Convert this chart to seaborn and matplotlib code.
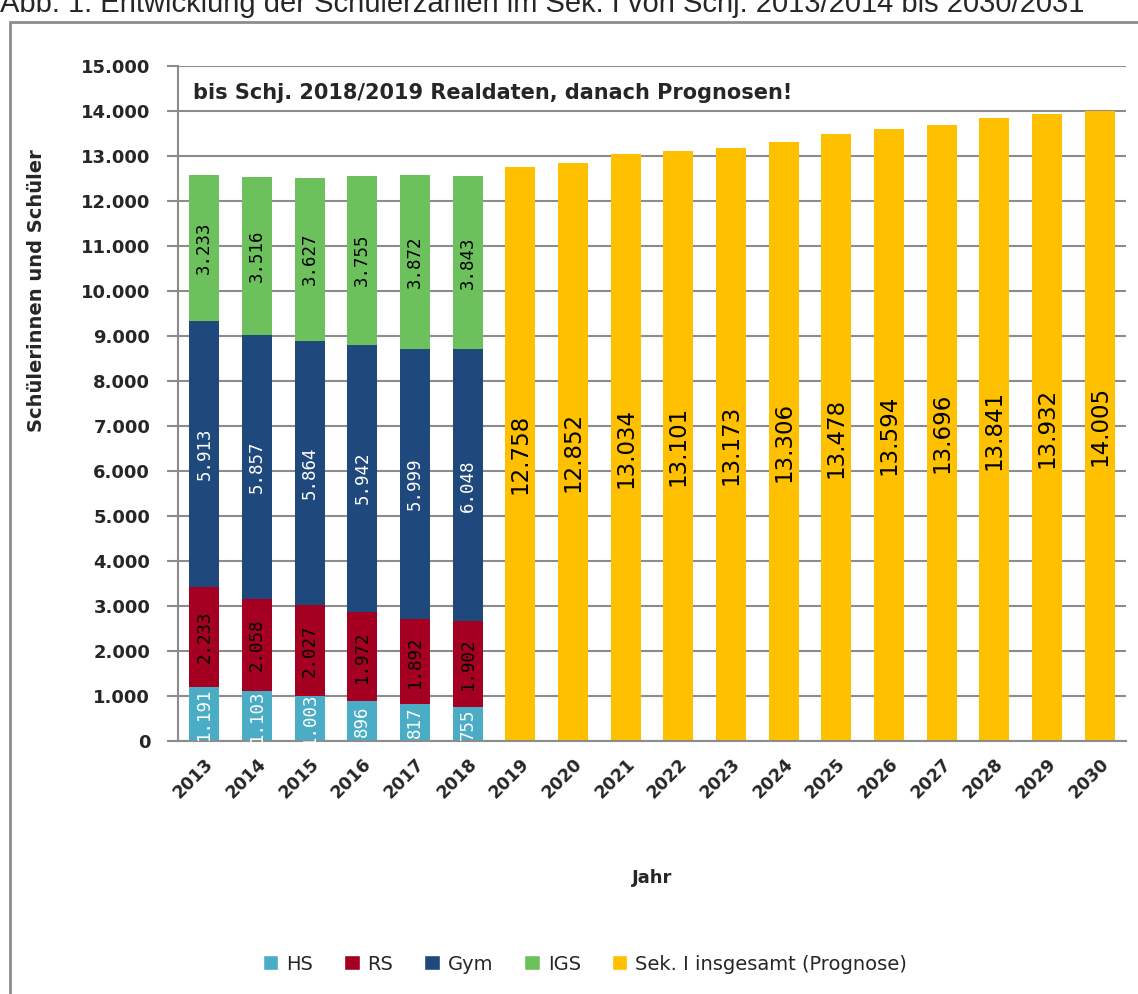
import numpy as np
import pandas as pd
import matplotlib.pyplot as plt
import seaborn as sns
from matplotlib.patches import Patch, Rectangle

# Daten
jahre_real = ['2013', '2014', '2015', '2016', '2017', '2018']
jahre_prog = ['2019', '2020', '2021', '2022', '2023', '2024',
              '2025', '2026', '2027', '2028', '2029', '2030']
hs = [1191, 1103, 1003, 896, 817, 755]
rs = [2233, 2058, 2027, 1972, 1892, 1902]
gym = [5913, 5857, 5864, 5942, 5999, 6048]
igs = [3233, 3516, 3627, 3755, 3872, 3843]
prognose = [12758, 12852, 13034, 13101, 13173, 13306,
            13478, 13594, 13696, 13841, 13932, 14005]

jahre_alle = jahre_real + jahre_prog

farben = {'HS': '#4BACC6', 'RS': '#A50021', 'Gym': '#1F497D',
          'IGS': '#6CC15C', 'Sek. I insgesamt (Prognose)': '#FFC000'}
grau = '#8C8C8C'

df = pd.DataFrame({'Jahr': jahre_real, 'HS': hs, 'RS': rs, 'Gym': gym, 'IGS': igs})
df_prog = pd.DataFrame({'Jahr': jahre_prog, 'Gesamt': prognose})

sns.set_style('white')
plt.rcParams['font.family'] = ['DejaVu Sans']

fig = plt.figure(figsize=(11.38, 9.94), dpi=100)
ax = fig.add_axes([178 / 1138, 1 - 741 / 994, 948 / 1138, 675 / 994])

# gestapelte Balken: kumulierte Summen von oben nach unten zeichnen
stapel = ['HS', 'RS', 'Gym', 'IGS']
kum = df[stapel].cumsum(axis=1)
for col in reversed(stapel):
    sns.barplot(x=df['Jahr'], y=kum[col], order=jahre_alle, color=farben[col],
                width=0.57, saturation=1, linewidth=0, ax=ax)

sns.barplot(x=df_prog['Jahr'], y=df_prog['Gesamt'], order=jahre_alle,
            color=farben['Sek. I insgesamt (Prognose)'], width=0.57,
            saturation=1, linewidth=0, ax=ax)

# Beschriftungen
def fmt(v):
    return f"{v:,.0f}".replace(',', '.')

textfarben = {'HS': 'white', 'RS': 'black', 'Gym': 'white', 'IGS': 'black'}
for i in range(len(jahre_real)):
    unten = 0
    for col in stapel:
        v = df[col][i]
        ax.text(i, unten + v / 2, fmt(v), rotation=90, ha='center', va='center',
                color=textfarben[col], fontsize=12.5, family='DejaVu Sans Mono')
        unten += v

for j, v in enumerate(prognose):
    ax.text(len(jahre_real) + j, v / 2, fmt(v), rotation=90, ha='center',
            va='center', color='black', fontsize=16.5)

# Achsen
ax.set_ylim(0, 15000)
ax.set_xlim(-0.5, len(jahre_alle) - 0.5)
yt = np.arange(0, 15001, 1000)
ax.set_yticks(yt)
ax.set_yticklabels([fmt(v) for v in yt], fontsize=13, fontweight='bold')
ax.set_xticks(range(len(jahre_alle)))
ax.set_xticklabels(jahre_alle, rotation=45, ha='right', va='top',
                   rotation_mode='anchor', fontsize=12.5, fontweight='bold')
ax.set_xticks(np.arange(-0.5, len(jahre_alle), 1), minor=True)
ax.tick_params(axis='x', which='major', length=0, pad=10)
ax.tick_params(axis='x', which='minor', length=6, color=grau, width=1.5)
ax.tick_params(axis='y', length=8, color=grau, width=1.5, pad=12, left=True)
ax.set_xlabel('')
ax.set_ylabel('')
ax.grid(axis='y', color=grau, linewidth=1.5)
ax.set_axisbelow(True)
for s in ['top', 'right']:
    ax.spines[s].set_visible(False)
for s in ['left', 'bottom']:
    ax.spines[s].set_color(grau)
    ax.spines[s].set_linewidth(1.5)

ax.text(0.016, 0.96, 'bis Schj. 2018/2019 Realdaten, danach Prognosen!',
        transform=ax.transAxes, fontsize=15, fontweight='bold', va='center')

fig.text(37 / 1138, 1 - 291 / 994, 'Schülerinnen und Schüler', rotation=90,
         ha='center', va='center', fontsize=14, fontweight='bold')
fig.text(652 / 1138, 1 - 878 / 994, 'Jahr', ha='center', va='center',
         fontsize=13, fontweight='bold')

# Titel (wie im Original oben angeschnitten)
fig.text(0.0, 0.988, 'Abb. 1: Entwicklung der Schülerzahlen im Sek. I von Schj. 2013/2014 bis 2030/2031',
         ha='left', va='baseline', fontsize=21, family='Liberation Sans')

# Rahmen
fig.patches.append(Rectangle((10 / 1138, -0.1), 1.2, 0.1 + 1 - 22 / 994,
                             transform=fig.transFigure, fill=False,
                             edgecolor=grau, linewidth=2))

handles = [Patch(facecolor=c, label=k) for k, c in farben.items()]
fig.legend(handles=handles, loc='center', bbox_to_anchor=(0.514, 1 - 964 / 994),
           ncol=5, frameon=False, fontsize=14, handlelength=0.8,
           handleheight=0.8, handletextpad=0.4, columnspacing=1.6)

fig.savefig('out.png', dpi=100)
